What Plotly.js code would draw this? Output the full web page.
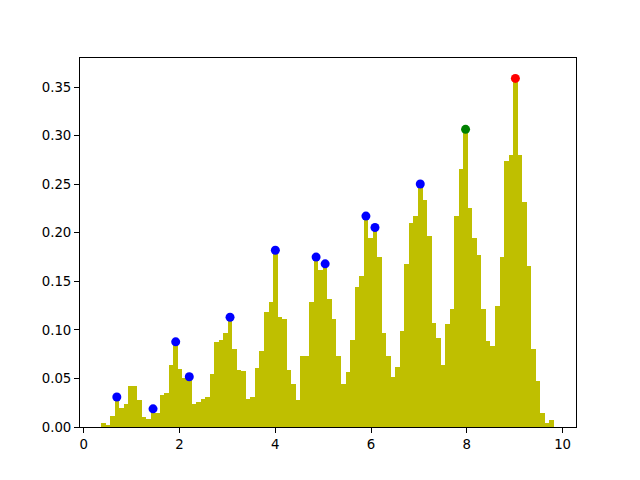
<!DOCTYPE html>
<html>
<head>
<meta charset="utf-8">
<script src="https://cdn.plot.ly/plotly-3.0.1.min.js"></script>
<style>html,body{margin:0;padding:0;background:#fff}#chart{width:640px;height:480px}</style>
</head>
<body>
<div id="chart"></div>
<script>
// Histogram: 100 bins
const binStart = 0.358;
const binWidth = 0.0946;
const density = [
  0.0044, 0.0024, 0.0113, 0.0309, 0.0200, 0.0237, 0.0420, 0.0420, 0.0280, 0.0100,
  0.0080, 0.0187, 0.0140, 0.0330, 0.0350, 0.0640, 0.0877, 0.0600, 0.0500, 0.0517,
  0.0240, 0.0260, 0.0285, 0.0305, 0.0546, 0.0878, 0.0896, 0.0965, 0.1130, 0.0800,
  0.0587, 0.0576, 0.0285, 0.0312, 0.0604, 0.0782, 0.1180, 0.1290, 0.1820, 0.1136,
  0.1108, 0.0587, 0.0440, 0.0278, 0.0731, 0.0731, 0.1290, 0.1750, 0.1616, 0.1680,
  0.1314, 0.1108, 0.0731, 0.0443, 0.0569, 0.0896, 0.1444, 0.1554, 0.2172, 0.1942,
  0.2055, 0.1747, 0.0964, 0.0731, 0.0518, 0.0614, 0.0985, 0.1675, 0.2104, 0.2172,
  0.2502, 0.2333, 0.1966, 0.1067, 0.0919, 0.0638, 0.1057, 0.1219, 0.2175, 0.2652,
  0.3065, 0.2258, 0.1949, 0.1767, 0.1219, 0.0888, 0.0837, 0.1246, 0.1747, 0.2735,
  0.2802, 0.3590, 0.2802, 0.2319, 0.1657, 0.0800, 0.0474, 0.0140, 0.0038, 0.0072
];
// Peak bins
const peakIdx = [3, 11, 16, 19, 28, 38, 47, 49, 58, 60, 70];
const secondIdx = [80];
const maxIdx = [91];

const centers = density.map((_, k) => binStart + binWidth * (k + 0.5));
const px = idx => idx.map(k => centers[k]);
const py = idx => idx.map(k => density[k]);

const font = {family: 'DejaVu Sans', size: 13.3, color: '#000'};
const traces = [
  {type: 'bar', x: centers, y: density, width: binWidth,
   marker: {color: '#bfbf00', line: {width: 0}}, hoverinfo: 'x+y'},
  {type: 'scatter', mode: 'markers', x: px(peakIdx), y: py(peakIdx),
   marker: {color: '#0000ff', size: 9}},
  {type: 'scatter', mode: 'markers', x: px(secondIdx), y: py(secondIdx),
   marker: {color: '#008000', size: 9}},
  {type: 'scatter', mode: 'markers', x: px(maxIdx), y: py(maxIdx),
   marker: {color: '#ff0000', size: 9}}
];
const axisCommon = {
  showline: true, mirror: true, linecolor: '#000', linewidth: 1,
  ticks: 'outside', ticklen: 5, tickwidth: 1, tickcolor: '#000',
  showgrid: false, zeroline: false, tickfont: font
};
const layout = {
  width: 640, height: 480,
  margin: {l: 80, r: 64, t: 58, b: 53},
  paper_bgcolor: '#fff', plot_bgcolor: '#fff',
  showlegend: false, bargap: 0,
  xaxis: Object.assign({range: [-0.08, 10.28], tickvals: [0, 2, 4, 6, 8, 10]}, axisCommon),
  yaxis: Object.assign({range: [0, 0.38], dtick: 0.05, tickformat: '.2f'}, axisCommon),
  font: font
};
Plotly.newPlot('chart', traces, layout, {displayModeBar: false, staticPlot: true});
</script>
</body>
</html>
